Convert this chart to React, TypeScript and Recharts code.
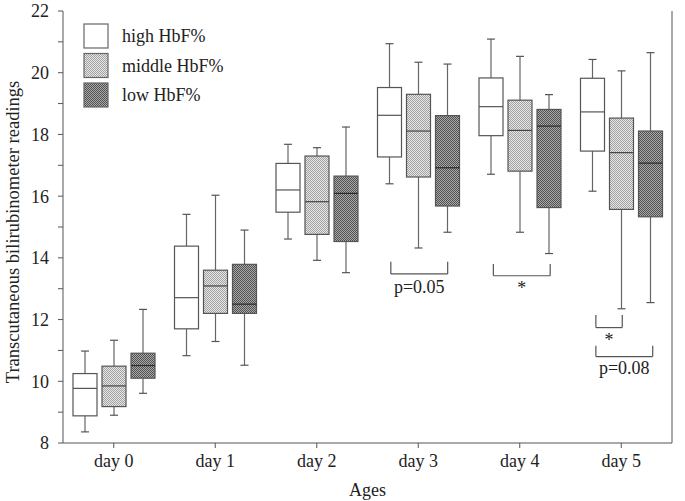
import React from 'react';
import { ComposedChart, Bar, XAxis, YAxis, ReferenceLine, ReferenceDot } from 'recharts';

const days = ['day 0', 'day 1', 'day 2', 'day 3', 'day 4', 'day 5'];

// each entry: [min, q1, median, q3, max]
const highHbF = [
  [8.36, 8.88, 9.77, 10.25, 10.98],
  [10.83, 11.7, 12.71, 14.38, 15.41],
  [14.61, 15.48, 16.2, 17.06, 17.68],
  [16.4, 17.27, 18.62, 19.52, 20.94],
  [16.71, 17.96, 18.9, 19.83, 21.09],
  [16.16, 17.46, 18.73, 19.82, 20.43],
];
const middleHbF = [
  [8.9, 9.18, 9.85, 10.49, 11.33],
  [11.29, 12.2, 13.09, 13.6, 16.03],
  [13.92, 14.76, 15.82, 17.3, 17.57],
  [14.32, 16.62, 18.11, 19.3, 20.34],
  [14.83, 16.81, 18.13, 19.11, 20.53],
  [12.35, 15.57, 17.41, 18.53, 20.06],
];
const lowHbF = [
  [9.61, 10.1, 10.51, 10.91, 12.33],
  [10.52, 12.2, 12.5, 13.79, 14.9],
  [13.52, 14.53, 16.09, 16.65, 18.24],
  [14.83, 15.68, 16.92, 18.61, 20.28],
  [14.14, 15.63, 18.27, 18.81, 19.29],
  [12.55, 15.33, 17.07, 18.11, 20.65],
];

const yTicks = [8, 9, 10, 11, 12, 13, 14, 15, 16, 17, 18, 19, 20, 21, 22];

const legendLabels = ['high HbF%', 'middle HbF%', 'low HbF%'];

// significance brackets (day index, x offsets in category units, y values)
const bracketDays = [3, 4, 5, 5];
const bracketFrom = [-0.27, -0.26, -0.25, -0.25];
const bracketTo = [0.29, 0.3, 0.01, 0.31];
const bracketTop = [13.87, 13.8, 12.15, 11.15];
const bracketBottom = [13.48, 13.42, 11.74, 10.8];
const bracketText = ['p=0.05', '*', '*', 'p=0.08'];
const bracketTextY = [13.06, 13.04, 11.36, 10.43];

const FONT = '"Liberation Serif", "DejaVu Serif", serif';
const AXIS = '#555';

const data = days.map((day, i) => ({
  day,
  idx: i,
  high: [highHbF[i][0], highHbF[i][4]],
  highStats: highHbF[i],
  middle: [middleHbF[i][0], middleHbF[i][4]],
  middleStats: middleHbF[i],
  low: [lowHbF[i][0], lowHbF[i][4]],
  lowStats: lowHbF[i],
}));

const makeBox = (key: string, fill: string, medianColor: string) => (props: any) => {
  const { x, y, width, height, payload } = props;
  const stats = payload[key + 'Stats'];
  const [mn, q1, med, q3, mx] = stats;
  const top = Math.min(y, y + height);
  const bot = Math.max(y, y + height);
  const py = (v: number) => top + ((mx - v) / (mx - mn)) * (bot - top);
  const cx = x + width / 2;
  const cap = 4;
  return (
    <g>
      <line x1={cx} x2={cx} y1={py(mx)} y2={py(q3)} stroke="#666" strokeWidth={1.2} />
      <line x1={cx} x2={cx} y1={py(q1)} y2={py(mn)} stroke="#666" strokeWidth={1.2} />
      <line x1={cx - cap} x2={cx + cap} y1={py(mx)} y2={py(mx)} stroke="#555" strokeWidth={1.2} />
      <line x1={cx - cap} x2={cx + cap} y1={py(mn)} y2={py(mn)} stroke="#555" strokeWidth={1.2} />
      <rect x={x} y={py(q3)} width={width} height={py(q1) - py(q3)} fill={fill} stroke="#555" strokeWidth={1.2} />
      <line x1={x} x2={x + width} y1={py(med)} y2={py(med)} stroke={medianColor} strokeWidth={1.2} />
    </g>
  );
};

const Overlay = () => {
  const fills = ['#fff', 'url(#dotsLight)', 'url(#checkDark)'];
  return (
    <svg width={685} height={501} style={{ position: 'absolute', left: 0, top: 0, pointerEvents: 'none' }}>
      <defs>
        <pattern id="dotsLight" patternUnits="userSpaceOnUse" width={2} height={2}>
          <rect width={2} height={2} fill="#e6e6e6" />
          <rect width={1} height={1} fill="#a2a2a2" />
          <rect x={1} y={1} width={1} height={1} fill="#a2a2a2" />
        </pattern>
        <pattern id="checkDark" patternUnits="userSpaceOnUse" width={2} height={2}>
          <rect width={2} height={2} fill="#aaaaaa" />
          <rect width={1} height={1} fill="#505050" />
          <rect x={1} y={1} width={1} height={1} fill="#505050" />
        </pattern>
      </defs>
      {legendLabels.map((label, i) => (
        <g key={label}>
          <rect x={84} y={24 + i * 29.5} width={24} height={24} fill={fills[i]} stroke="#666" strokeWidth={1.2} />
          <text x={122} y={36 + i * 29.5} dy="0.35em" fontFamily={FONT} fontSize={18} fill="#222">
            {label}
          </text>
        </g>
      ))}
      <text
        x={13}
        y={232}
        transform="rotate(-90 13 232)"
        textAnchor="middle"
        dy="0.35em"
        fontFamily={FONT}
        fontSize={18.5}
        fill="#222"
      >
        Transcutaneous bilirubinometer readings
      </text>
    </svg>
  );
};

export default function App() {
  return (
    <div style={{ position: 'absolute', left: 0, top: 0, width: 685, height: 501, background: '#fff' }}>
      <Overlay />
      <div style={{ position: 'absolute', left: 0, top: 0 }}>
        <ComposedChart
          width={685}
          height={501}
          data={data}
          margin={{ top: 11, right: 0, bottom: 0, left: 0 }}
          barSize={24}
          barGap={5}
        >
          <XAxis
            dataKey="day"
            height={58}
            tick={{ fill: '#222', fontSize: 18, fontFamily: FONT }}
            tickSize={5}
            tickMargin={6}
            stroke={AXIS}
            label={{ value: 'Ages', position: 'insideBottom', offset: 5, fill: '#222', fontSize: 18, fontFamily: FONT }}
          />
          <XAxis
            xAxisId="top"
            dataKey="day"
            orientation="top"
            height={0}
            tickSize={4}
            tickFormatter={() => ''}
            stroke={AXIS}
          />
          <XAxis xAxisId="num" dataKey="idx" type="number" domain={[-0.5, 5.5]} hide allowDataOverflow />
          <YAxis
            width={63}
            domain={[8, 22]}
            ticks={yTicks}
            interval={0}
            tickFormatter={(v: number) => (v % 2 === 0 ? String(v) : '')}
            tick={{ fill: '#222', fontSize: 18, fontFamily: FONT }}
            tickSize={5}
            tickMargin={9}
            stroke={AXIS}
          />
          <YAxis
            yAxisId="right"
            orientation="right"
            width={13}
            domain={[8, 22]}
            ticks={yTicks}
            interval={0}
            tickSize={4}
            tickFormatter={() => ''}
            stroke={AXIS}
          />
          <Bar dataKey="high" shape={makeBox('high', '#fff', '#555')} isAnimationActive={false} />
          <Bar dataKey="middle" shape={makeBox('middle', 'url(#dotsLight)', '#444')} isAnimationActive={false} />
          <Bar dataKey="low" shape={makeBox('low', 'url(#checkDark)', '#2a2a2a')} isAnimationActive={false} />
          {bracketDays.map((d, i) => {
            const x0 = d + bracketFrom[i];
            const x1 = d + bracketTo[i];
            return (
              <React.Fragment key={'b' + i}>
                <ReferenceLine xAxisId="num" stroke={AXIS} strokeWidth={1.2}
                  segment={[{ x: x0, y: bracketTop[i] }, { x: x0, y: bracketBottom[i] }]} />
                <ReferenceLine xAxisId="num" stroke={AXIS} strokeWidth={1.2}
                  segment={[{ x: x0, y: bracketBottom[i] }, { x: x1, y: bracketBottom[i] }]} />
                <ReferenceLine xAxisId="num" stroke={AXIS} strokeWidth={1.2}
                  segment={[{ x: x1, y: bracketBottom[i] }, { x: x1, y: bracketTop[i] }]} />
                <ReferenceDot
                  xAxisId="num"
                  x={(x0 + x1) / 2}
                  y={bracketTextY[i]}
                  r={0}
                  fill="none"
                  stroke="none"
                  label={{ value: bracketText[i], position: 'center', fill: '#222', fontSize: 18, fontFamily: FONT }}
                />
              </React.Fragment>
            );
          })}
        </ComposedChart>
      </div>
    </div>
  );
}
